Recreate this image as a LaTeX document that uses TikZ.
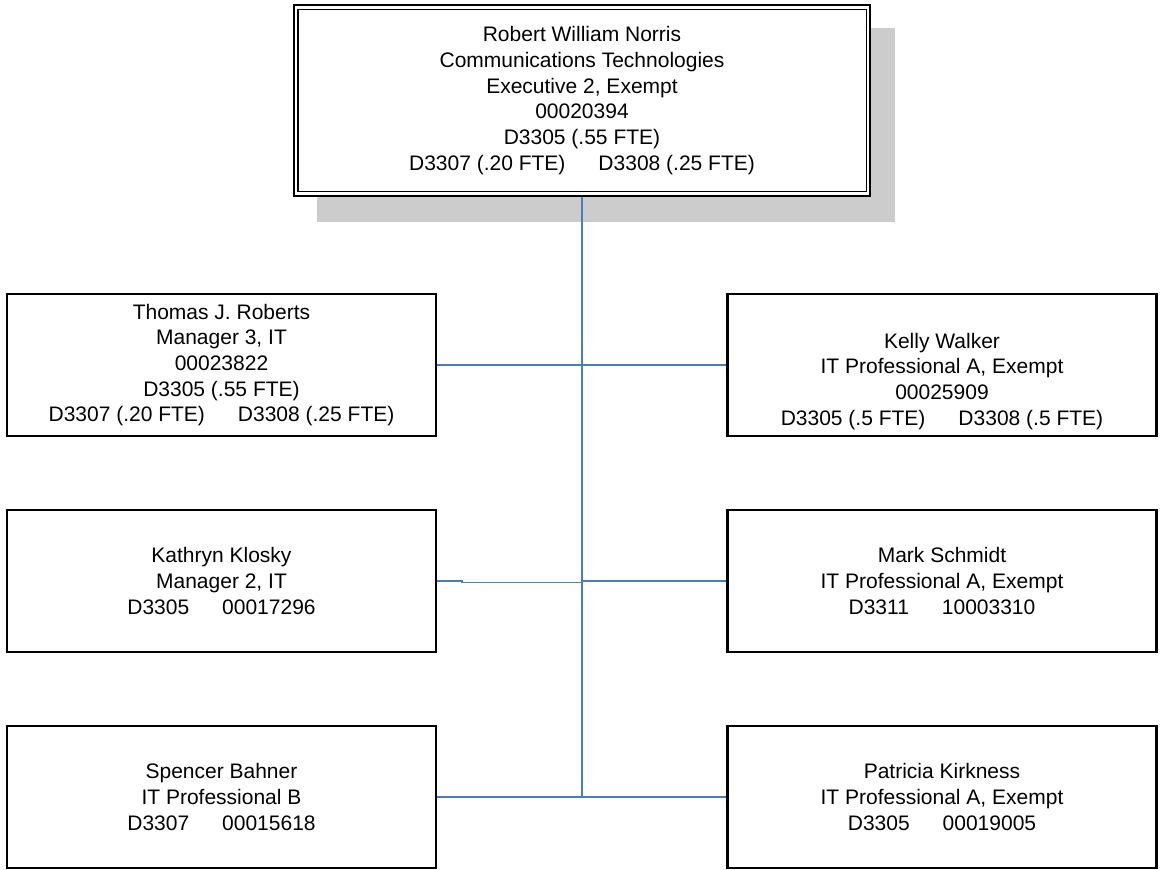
\documentclass[tikz,border=0pt]{standalone}
\usepackage{fontspec}
\setmainfont{Liberation Sans}
\usetikzlibrary{calc, positioning}

\definecolor{linkblue}{HTML}{4A7EBB}
\definecolor{shadowgray}{HTML}{CCCCCC}

\newcommand{\tabgap}{\hspace*{33pt}}

\tikzset{
    person/.style={draw, line width=2.3pt, fill=white, rectangle,
        minimum width=429pt, minimum height=142pt, align=center,
        inner sep=0pt, font=\fontsize{21}{25.7}\selectfont},
    chief/.style={person, minimum width=576pt, minimum height=191pt},
    link/.style={draw=linkblue, line width=1.6pt}
}

\begin{document}
\begin{tikzpicture}[x=1pt, y=-1pt]
    \def\leftX{221.5}
    \def\rightX{942}
    \def\trunkX{582}

    \useasboundingbox (0, 0) rectangle (1163, 870);

    % Draw shadow behind the top box
    \fill[shadowgray] (317, 28) rectangle (895, 222);

    % Draw top box
    \node[chief] (norris) at (\trunkX, 100.5)
        {Robert William Norris\\Communications Technologies\\Executive 2, Exempt\\
         00020394\\D3305 (.55 FTE)\\D3307 (.20 FTE)\tabgap D3308 (.25 FTE)};
    \draw[line width=1.3pt]
        ([shift={(5pt, -5.5pt)}]norris.north west)
        rectangle
        ([shift={(-5pt, 5.5pt)}]norris.south east);

    % Draw staff boxes
    \node[person] (roberts) at (\leftX, 365)
        {Thomas J. Roberts\\Manager 3, IT\\00023822\\D3305 (.55 FTE)\\
         D3307 (.20 FTE)\tabgap D3308 (.25 FTE)};
    \node[person] (walker) at (\rightX, 365)
        {\rule{0pt}{22pt}\\Kelly Walker\\IT Professional A, Exempt\\00025909\\
         D3305 (.5 FTE)\tabgap D3308 (.5 FTE)};
    \node[person] (klosky) at (\leftX, 581)
        {Kathryn Klosky\\Manager 2, IT\\D3305\tabgap 00017296};
    \node[person] (schmidt) at (\rightX, 581)
        {Mark Schmidt\\IT Professional A, Exempt\\D3311\tabgap 10003310};
    \node[person] (bahner) at (\leftX, 797)
        {Spencer Bahner\\IT Professional B\\D3307\tabgap 00015618};
    \node[person] (kirkness) at (\rightX, 797)
        {Patricia Kirkness\\IT Professional A, Exempt\\D3305\tabgap 00019005};

    % Draw trunk
    \coordinate (bottom) at (norris.south |- bahner.east);
    \coordinate (mid) at ($(norris.south |- klosky.east) + (0, 1.3)$);
    \draw[link] (norris.south) -- (bottom);

    % Draw branches
    \foreach \l/\r in {roberts/walker, bahner/kirkness} {
        \draw[link] (\l.east) -- (\r.west);
    }
    \draw[link] (klosky.east) -- ++(25, 0) |- (mid);
    \draw[link] (schmidt.west) -- (schmidt.west -| norris.south);
\end{tikzpicture}
\end{document}
